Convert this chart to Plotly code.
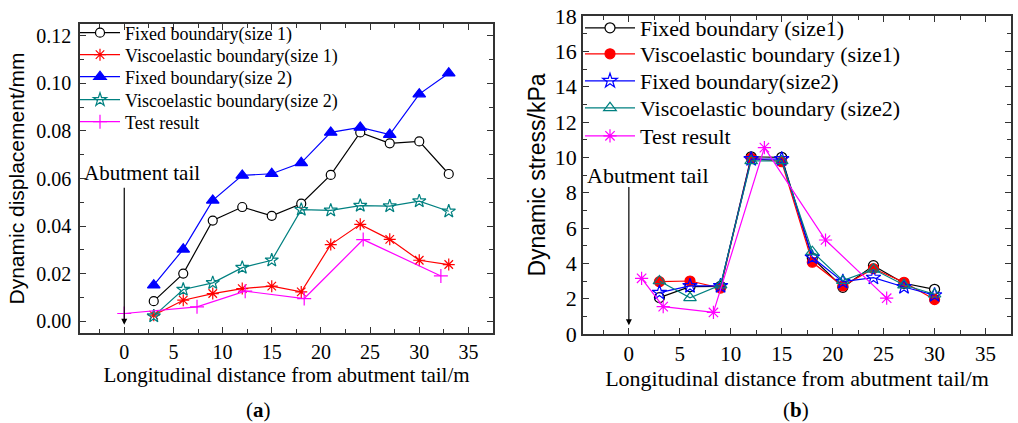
import plotly.graph_objects as go

# ---------------- data: (a) dynamic displacement ----------------
x_sim_a = [3, 6, 9, 12, 15, 18, 21, 24, 27, 30, 33]
fixed1_a = [0.0084, 0.020, 0.0423, 0.048, 0.0443, 0.0494, 0.0615, 0.0794, 0.0748, 0.0756, 0.0619]
visco1_a = [0.0025, 0.0088, 0.0116, 0.0137, 0.0147, 0.0123, 0.0322, 0.0407, 0.0344, 0.0256, 0.0238]
fixed2_a = [0.0151, 0.0302, 0.0508, 0.0613, 0.0620, 0.0666, 0.0794, 0.0815, 0.0785, 0.0955, 0.1043]
visco2_a = [0.0021, 0.0133, 0.0161, 0.0225, 0.0256, 0.0469, 0.0466, 0.0486, 0.0484, 0.0505, 0.0462]
x_test_a = [0.0, 7.4, 12.3, 18.3, 24.3, 32.2]
test_a = [0.0032, 0.0060, 0.0126, 0.0095, 0.0343, 0.0190]

# ---------------- data: (b) dynamic stress ----------------
x_sim_b = [3, 6, 9, 12, 15, 18, 21, 24, 27, 30]
fixed1_b = [2.06, 2.68, 2.70, 10.03, 10.0, 4.30, 2.64, 3.87, 2.87, 2.53]
visco1_b = [2.96, 3.00, 2.60, 9.95, 9.75, 4.06, 2.72, 3.70, 2.93, 1.95]
fixed2_b = [2.34, 2.72, 2.72, 9.90, 9.90, 4.34, 2.96, 3.19, 2.66, 2.20]
visco2_b = [3.00, 2.05, 2.77, 9.80, 9.80, 4.66, 3.02, 3.66, 2.77, 2.25]
x_test_b = [1.25, 3.37, 8.3, 13.3, 19.3, 25.3]
test_b = [3.15, 1.55, 1.22, 10.55, 5.32, 2.03]

names_a = ["Fixed boundary(size 1)", "Viscoelastic boundary(size 1)", "Fixed boundary(size 2)",
           "Viscoelastic boundary(size 2)", "Test result"]
names_b = ["Fixed boundary (size1)", "Viscoelastic boundary (size1)", "Fixed boundary(size2)",
           "Viscoelastic boundary (size2)", "Test result"]

x_ticks = [0, 5, 10, 15, 20, 25, 30, 35]
x_title = "Longitudinal distance from abutment tail/m"

BLACK, RED, BLUE, TEAL, MAG = "#000000", "#ff0000", "#0000ff", "#008080", "#ff00ff"
SERIF = "Liberation Serif"
SANS = "Liberation Sans"
AX = "#333333"

fig = go.Figure()

# legend rows (pixel centres from the top of the picture)
rows_a = [33, 55, 77, 100, 122]
rows_b = [28, 54, 81, 108, 136]

def add(x, y, name, color, symbol, size, xa, ya, legend, fill=None):
    fig.add_trace(go.Scatter(
        x=x, y=y, name=name, mode="lines+markers", xaxis=xa, yaxis=ya, legend=legend,
        line=dict(color=color, width=1.2),
        marker=dict(symbol=symbol, size=size, color=fill if fill else color,
                    line=dict(color=color, width=1.2)),
    ))

styles_a = [(BLACK, "circle", 9, "white"), (RED, "asterisk-open", 10, None),
            (BLUE, "triangle-up", 11, None), (TEAL, "star-open", 10, None),
            (MAG, "cross-thin-open", 10, None)]
styles_b = [(BLACK, "circle", 10, "white"), (RED, "circle", 10, None),
            (BLUE, "star-open", 11, None), (TEAL, "triangle-up-open", 11, None),
            (MAG, "asterisk-open", 11, None)]
series_a = [(x_sim_a, fixed1_a), (x_sim_a, visco1_a), (x_sim_a, fixed2_a), (x_sim_a, visco2_a), (x_test_a, test_a)]
series_b = [(x_sim_b, fixed1_b), (x_sim_b, visco1_b), (x_sim_b, fixed2_b), (x_sim_b, visco2_b), (x_test_b, test_b)]

layout_legends = {}
for i, ((xs, ys), (c, s, sz, f)) in enumerate(zip(series_a, styles_a)):
    lname = "legend" if i == 0 else f"legend{i + 1}"
    add(xs, ys, names_a[i], c, s, sz, "x", "y", lname, fill=f)
    layout_legends[lname] = dict(x=75/1018, y=1 - rows_a[i]/423, xanchor="left", yanchor="middle",
                                 bgcolor="rgba(0,0,0,0)", borderwidth=0,
                                 font=dict(family=SERIF, size=18, color="black"), itemwidth=40)
for i, ((xs, ys), (c, s, sz, f)) in enumerate(zip(series_b, styles_b)):
    lname = f"legend{i + 6}"
    add(xs, ys, names_b[i], c, s, sz, "x2", "y2", lname, fill=f)
    layout_legends[lname] = dict(x=580/1018, y=1 - rows_b[i]/423, xanchor="left", yanchor="middle",
                                 bgcolor="rgba(0,0,0,0)", borderwidth=0,
                                 font=dict(family=SERIF, size=22, color="black"), itemwidth=50)

def axis_common(fs):
    return dict(showgrid=False, zeroline=False, showline=True, linecolor=AX, linewidth=1.5,
                mirror="allticks", ticks="inside", ticklen=6, tickwidth=1.2, tickcolor=AX,
                automargin=False, tickfont=dict(family=SERIF, size=fs, color="black"))

fig.update_layout(
    width=1018, height=423, margin=dict(l=0, r=0, t=0, b=0),
    paper_bgcolor="white", plot_bgcolor="white",
    showlegend=True,
    xaxis=dict(domain=[80/1018, 493/1018], anchor="y", range=[-4.5, 37.5],
               tickmode="array", tickvals=x_ticks, ticklabelstandoff=0,
               minor=dict(dtick=2.5, tick0=0, ticks="inside", ticklen=4, tickcolor=AX),
               title=dict(text=x_title, font=dict(family=SERIF, size=21, color="black"), standoff=0),
               **axis_common(20)),
    yaxis=dict(domain=[90/423, 399/423], anchor="x", range=[-0.005, 0.125],
               dtick=0.02, tick0=0, tickformat=".2f", ticklabelstandoff=3,
               minor=dict(dtick=0.01, ticks="inside", ticklen=4, tickcolor=AX),
               title=dict(text="Dynamic displacement/mm", font=dict(family=SANS, size=21, color="black"), standoff=6),
               **axis_common(20)),
    xaxis2=dict(domain=[583/1018, 1011/1018], anchor="y2", range=[-4.5, 37.5],
                tickmode="array", tickvals=x_ticks, ticklabelstandoff=0,
                minor=dict(dtick=2.5, tick0=0, ticks="inside", ticklen=4, tickcolor=AX),
                title=dict(text=x_title, font=dict(family=SERIF, size=22, color="black"), standoff=0),
                **axis_common(21)),
    yaxis2=dict(domain=[89/423, 407/423], anchor="x2", range=[0, 18],
                dtick=2, tick0=0, ticklabelstandoff=0,
                minor=dict(dtick=1, ticks="inside", ticklen=4, tickcolor=AX),
                title=dict(text="Dynamic stress/kPa", font=dict(family=SANS, size=23, color="black"), standoff=3),
                **axis_common(22)),
    **layout_legends,
)

# annotations: abutment tail arrows and labels
fig.add_annotation(x=0, y=-0.0015, ax=0, ay=0.0567, xref="x", yref="y", axref="x", ayref="y",
                   showarrow=True, arrowhead=2, arrowsize=1, arrowwidth=1.2, arrowcolor="black", text="")
fig.add_annotation(x=-4.3, y=0.0625, xref="x", yref="y", xanchor="left", yanchor="middle",
                   text="Abutment tail", showarrow=False, font=dict(family=SERIF, size=21, color="black"))
fig.add_annotation(x=0, y=0.5, ax=0, ay=8.4, xref="x2", yref="y2", axref="x2", ayref="y2",
                   showarrow=True, arrowhead=2, arrowsize=1, arrowwidth=1.2, arrowcolor="black", text="")
fig.add_annotation(x=-4.3, y=8.95, xref="x2", yref="y2", xanchor="left", yanchor="middle",
                   text="Abutment tail", showarrow=False, font=dict(family=SERIF, size=22, color="black"))

fig.add_annotation(x=258/1018, y=1 - 410/423, xref="paper", yref="paper", showarrow=False,
                   xanchor="center", yanchor="middle",
                   text="(<b>a</b>)", font=dict(family=SERIF, size=21, color="black"))
fig.add_annotation(x=796/1018, y=1 - 410/423, xref="paper", yref="paper", showarrow=False,
                   xanchor="center", yanchor="middle",
                   text="(<b>b</b>)", font=dict(family=SERIF, size=21, color="black"))

fig.write_html("out.html")
